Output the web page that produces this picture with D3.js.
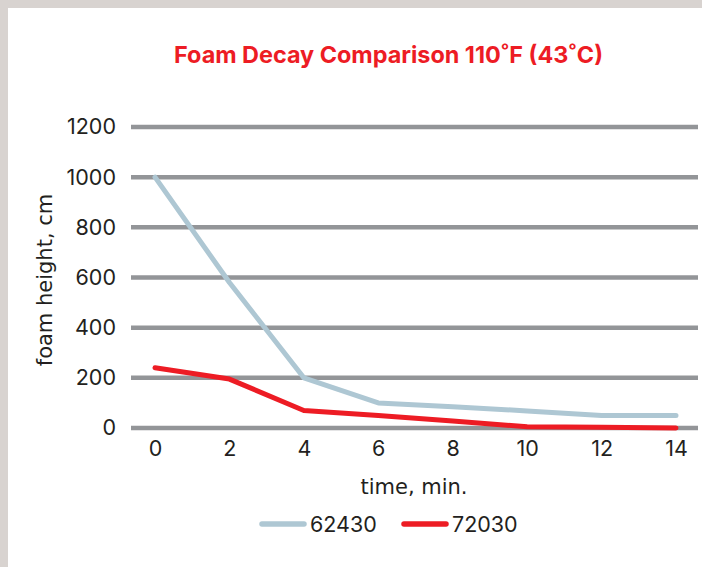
<!DOCTYPE html>
<html>
<head>
<meta charset="utf-8">
<script src="https://cdn.jsdelivr.net/npm/d3@7"></script>
<style>
  html, body { margin: 0; padding: 0; background: #d8d3d0; }
  #chart { position: absolute; left: 8px; top: 8px; width: 694px; height: 559px; background: #fff; }
  text { font-family: Inter, "Open Sans", sans-serif; fill: #231f20; }
</style>
</head>
<body>
<div id="chart"></div>
<script>
// values
var times = [0, 2, 4, 6, 8, 10, 12, 14];
var series62430 = [1000, 580, 200, 100, 85, 68, 50, 50];
var series72030 = [240, 195, 70, 50, 28, 5, 3, 0];
var yTicks = [0, 200, 400, 600, 800, 1000, 1200];
var seriesNames = ["62430", "72030"];
var seriesColors = ["#aec7d3", "#ed1c24"];

var W = 702, H = 567;

var svg = d3.select("body").append("svg")
    .attr("width", W)
    .attr("height", H)
    .style("position", "absolute")
    .style("left", 0)
    .style("top", 0);

var x = d3.scaleLinear().domain([0, 14]).range([155, 676]);
var y = d3.scaleLinear().domain([0, 1200]).range([428, 127]);

// title
svg.append("text")
    .attr("x", 388.5)
    .attr("y", 63)
    .attr("text-anchor", "middle")
    .style("font-weight", 700)
    .style("font-size", "23.4px")
    .style("fill", "#ed1c24")
    .text("Foam Decay Comparison 110˚F (43˚C)");

// horizontal grid lines
svg.append("g")
    .selectAll("line")
    .data(yTicks)
    .enter().append("line")
    .attr("x1", 131)
    .attr("x2", 698)
    .attr("y1", function(d) { return y(d); })
    .attr("y2", function(d) { return y(d); })
    .style("stroke", "#939598")
    .style("stroke-width", 4.5);

// y axis labels
var yAxis = svg.append("g")
    .attr("transform", "translate(131,0)")
    .call(d3.axisLeft(y).tickValues(yTicks).tickFormat(d3.format("d")).tickSize(0).tickPadding(15));
yAxis.select(".domain").remove();
yAxis.selectAll("text")
    .style("font-size", "21.5px")
    .style("font-family", "Inter, sans-serif")
    .style("fill", "#231f20");

// x axis labels
var xAxis = svg.append("g")
    .attr("transform", "translate(0,441)")
    .call(d3.axisBottom(x).tickValues(times).tickSize(0).tickPadding(0));
xAxis.select(".domain").remove();
xAxis.selectAll("text")
    .style("font-size", "21.5px")
    .style("font-family", "Inter, sans-serif")
    .style("fill", "#231f20");

// axis titles
svg.append("text")
    .attr("transform", "translate(52,280) rotate(-90)")
    .attr("text-anchor", "middle")
    .style("font-family", "'DejaVu Sans', sans-serif")
    .style("font-size", "21px")
    .text("foam height, cm");

svg.append("text")
    .attr("x", 414)
    .attr("y", 494)
    .attr("text-anchor", "middle")
    .style("font-family", "'DejaVu Sans', sans-serif")
    .style("font-size", "21px")
    .text("time, min.");

// lines
var line = d3.line()
    .x(function(d, i) { return x(times[i]); })
    .y(function(d) { return y(d); });

[series62430, series72030].forEach(function(vals, i) {
    svg.append("path")
        .datum(vals)
        .attr("d", line)
        .style("fill", "none")
        .style("stroke", seriesColors[i])
        .style("stroke-width", 5)
        .style("stroke-linecap", "round")
        .style("stroke-linejoin", "round");
});

// legend
var legendX = [262, 404];
var legend = svg.append("g").selectAll("g")
    .data(seriesNames)
    .enter().append("g")
    .attr("transform", function(d, i) { return "translate(" + legendX[i] + ",524)"; });

legend.append("line")
    .attr("x1", 0)
    .attr("x2", 42)
    .style("stroke", function(d, i) { return seriesColors[i]; })
    .style("stroke-width", 5.5)
    .style("stroke-linecap", "round");

legend.append("text")
    .attr("x", 48)
    .attr("dy", "0.36em")
    .style("font-size", "21.5px")
    .text(function(d) { return d; });
</script>
</body>
</html>
